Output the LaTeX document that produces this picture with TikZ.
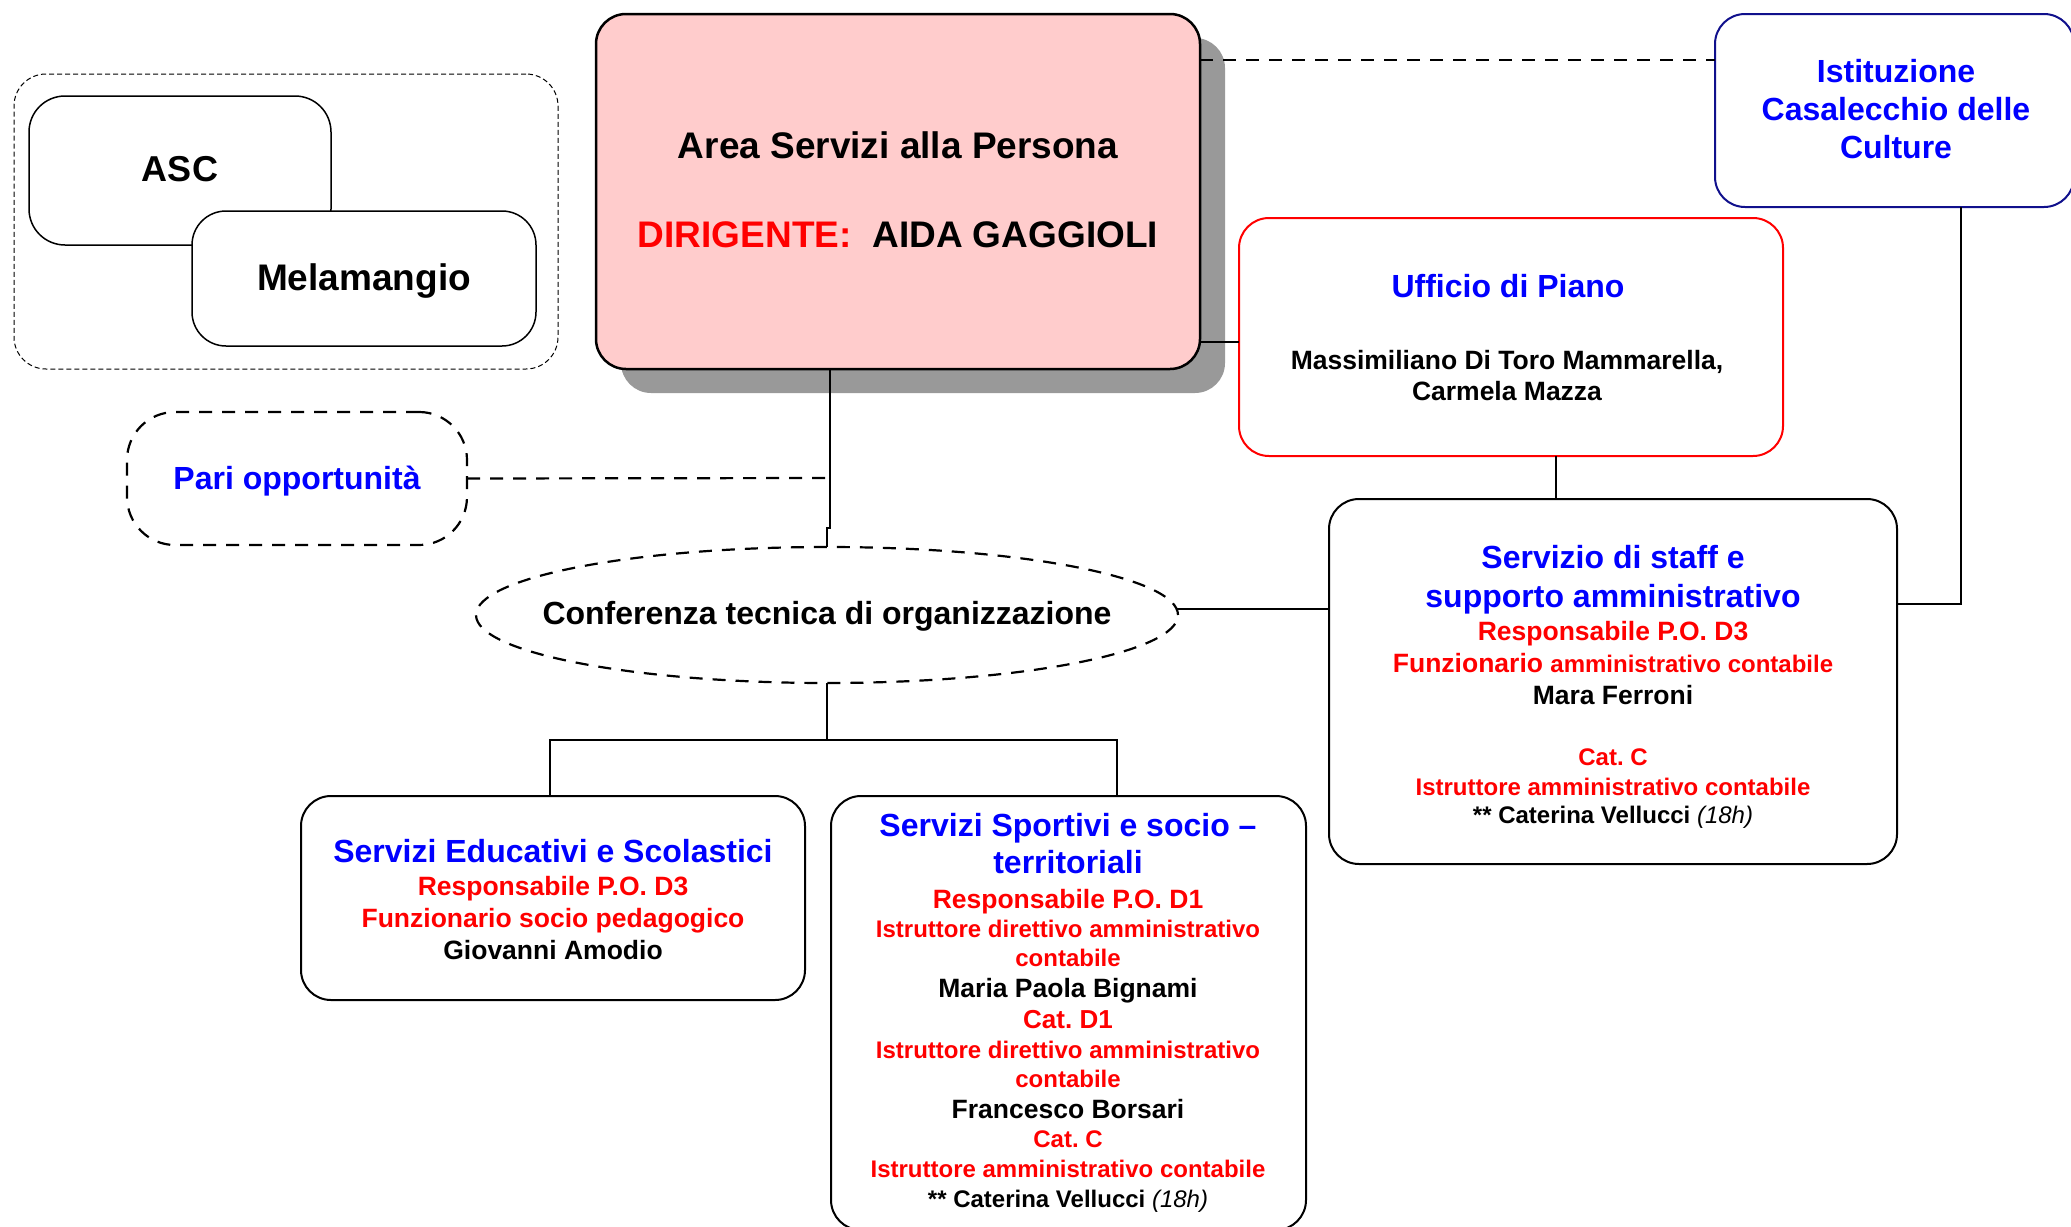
\documentclass[tikz,border=0pt]{standalone}
\usepackage{fontspec}
\setmainfont{Liberation Sans}
\usetikzlibrary{shapes.geometric,shadows}
\definecolor{ublue}{RGB}{0,0,255}
\definecolor{ured}{RGB}{255,0,0}
\definecolor{pinkfill}{RGB}{255,204,204}
\definecolor{shgray}{RGB}{153,153,153}
\definecolor{navyb}{RGB}{16,16,140}
\newcommand{\fsz}[1]{\fontsize{#1}{#1}\selectfont}
\frenchspacing
\begin{document}
\begin{tikzpicture}[x=1pt,y=-1pt,
  box/.style={draw, line width=2pt, rounded corners=30pt, outer sep=0pt, inner sep=0pt, fill=white},
  conn/.style={line width=2pt},
  dconn/.style={line width=2.2pt, dash pattern=on 13pt off 10pt},
  t/.style={anchor=base, inner sep=0pt, font=\bfseries},
  bl/.style={text=ublue},
  rd/.style={text=ured},
]
\useasboundingbox (0,0) rectangle (2071,1226);

% left group
\node[draw, line width=1pt, dash pattern=on 5pt off 3pt, rounded corners=32pt, outer sep=0pt, inner sep=0pt,
      minimum width=544pt, minimum height=295pt] (grp) at (286,221.5) {};
\node[box, line width=1.5pt, rounded corners=36pt, minimum width=302pt, minimum height=149pt] (asc) at (180,170.5) {};
\node[box, line width=1.5pt, rounded corners=34pt, minimum width=344pt, minimum height=135pt] (mela) at (364,278.5) {};
\node[t] (tasc) at (180,181) {\fsz{36}ASC};
\node[t] (tmela) at (364,290) {\fsz{37}Melamangio};

% Pari opportunita
\node[draw, line width=2.2pt, dash pattern=on 13pt off 10pt, rounded corners=48pt, outer sep=0pt, inner sep=0pt,
      minimum width=340pt, minimum height=133pt] (pari) at (297,478.5) {};
\node[t, bl] (tpari) at (297,489) {\fsz{32}Pari opportunità};

% Area box
\node[box, line width=2.5pt, fill=pinkfill, minimum width=604pt, minimum height=355pt,
      drop shadow={shadow xshift=25pt, shadow yshift=-24pt, fill=shgray, opacity=1}] (area) at (898,191.5) {};
\node[t] (tarea1) at (898,158) {\fsz{37}Area Servizi alla Persona};
\node[t] (tarea2) at (898,247) {\fsz{37}\textcolor{ured}{DIRIGENTE:}\ \ AIDA GAGGIOLI};

% Istituzione
\node[box, draw=navyb, minimum width=359pt, minimum height=193pt] (isti) at (1894.5,110.5) {};
\node[t, bl] (tisti1) at (1896,82) {\fsz{32}Istituzione};
\node[t, bl] (tisti2) at (1896,120) {\fsz{32}Casalecchio delle};
\node[t, bl] (tisti3) at (1896,158) {\fsz{32}Culture};

% Ufficio di Piano
\node[box, draw=ured, minimum width=544pt, minimum height=238pt] (uff) at (1511,337) {};
\node[t, bl] (tuff1) at (1508,297) {\fsz{32}Ufficio di Piano};
\node[t] (tuff2) at (1507,369) {\fsz{26.5}Massimiliano Di Toro Mammarella,};
\node[t] (tuff3) at (1507,400) {\fsz{26.5}Carmela Mazza};

% Conferenza
\node[ellipse, draw, line width=2.2pt, dash pattern=on 13pt off 10pt, outer sep=0pt, inner sep=0pt, fill=white,
      minimum width=702pt, minimum height=136pt] (conf) at (827,615) {};
\node[t] (tconf) at (827,624) {\fsz{32}Conferenza tecnica di organizzazione};

% Servizio di staff
\node[box, minimum width=568pt, minimum height=365pt] (staff) at (1613,681.5) {};
\node[t, bl] (ts1) at (1613,568) {\fsz{32}Servizio di staff e};
\node[t, bl] (ts2) at (1613,607) {\fsz{32}supporto amministrativo};
\node[t, rd] (ts3) at (1613,640) {\fsz{26.5}Responsabile P.O. D3};
\node[t, rd] (ts4) at (1613,672) {\fsz{26.5}Funzionario \fsz{24}amministrativo contabile};
\node[t] (ts5) at (1613,704) {\fsz{26.5}Mara Ferroni};
\node[t, rd] (ts6) at (1613,765) {\fsz{24}Cat. C};
\node[t, rd] (ts7) at (1613,795) {\fsz{24}Istruttore amministrativo contabile};
\node[t] (ts8) at (1613,823) {\fsz{24}** Caterina Vellucci {\normalfont\itshape (18h)}};

% Servizi Educativi
\node[box, minimum width=504pt, minimum height=204pt] (edu) at (553,898) {};
\node[t, bl] (te1) at (553,862) {\fsz{32}Servizi Educativi e Scolastici};
\node[t, rd] (te2) at (553,895) {\fsz{26.5}Responsabile P.O. D3};
\node[t, rd] (te3) at (553,927) {\fsz{26.5}Funzionario socio pedagogico};
\node[t] (te4) at (553,959) {\fsz{26.5}Giovanni Amodio};

% Servizi Sportivi
\node[box, minimum width=475pt, minimum height=434pt] (sport) at (1068.5,1013) {};
\node[t, bl] (tp1) at (1068,836) {\fsz{32}Servizi Sportivi e socio –};
\node[t, bl] (tp2) at (1068,873) {\fsz{32}territoriali};
\node[t, rd] (tp3) at (1068,908) {\fsz{26.5}Responsabile P.O. D1};
\node[t, rd] (tp4) at (1068,937) {\fsz{24}Istruttore direttivo amministrativo};
\node[t, rd] (tp5) at (1068,966) {\fsz{24}contabile};
\node[t] (tp6) at (1068,997) {\fsz{26.5}Maria Paola Bignami};
\node[t, rd] (tp7) at (1068,1028) {\fsz{26}Cat. D1};
\node[t, rd] (tp8) at (1068,1058) {\fsz{24}Istruttore direttivo amministrativo};
\node[t, rd] (tp9) at (1068,1087) {\fsz{24}contabile};
\node[t] (tp10) at (1068,1118) {\fsz{26.5}Francesco Borsari};
\node[t, rd] (tp11) at (1068,1147) {\fsz{24}Cat. C};
\node[t, rd] (tp12) at (1068,1177) {\fsz{24}Istruttore amministrativo contabile};
\node[t] (tp13) at (1068,1207) {\fsz{24}** Caterina Vellucci {\normalfont\itshape (18h)}};

% connectors
\coordinate (j) at (830,478);
\draw[dconn] (area.east |- 0,60) -- (isti.west |- 0,60);
\draw[conn] (area.east |- 0,342) -- (uff.west |- 0,342);
\draw[conn] (area.south -| j) -- (830,528) -| (conf.north);
\draw[dconn] (pari.east) -- (j);
\draw[conn] (conf.south) -- (827,740);
\draw[conn] (edu.north -| 550,0) -- (550,740) -- (1117,740) -- (sport.north -| 1117,0);
\draw[conn] (conf.1.8) -- (conf.1.8 -| staff.west);
\draw[conn] (uff.south -| 1556,0) -- (staff.north -| 1556,0);
\draw[conn] (isti.south -| 1961,0) |- (staff.east |- 0,604);
\end{tikzpicture}
\end{document}
